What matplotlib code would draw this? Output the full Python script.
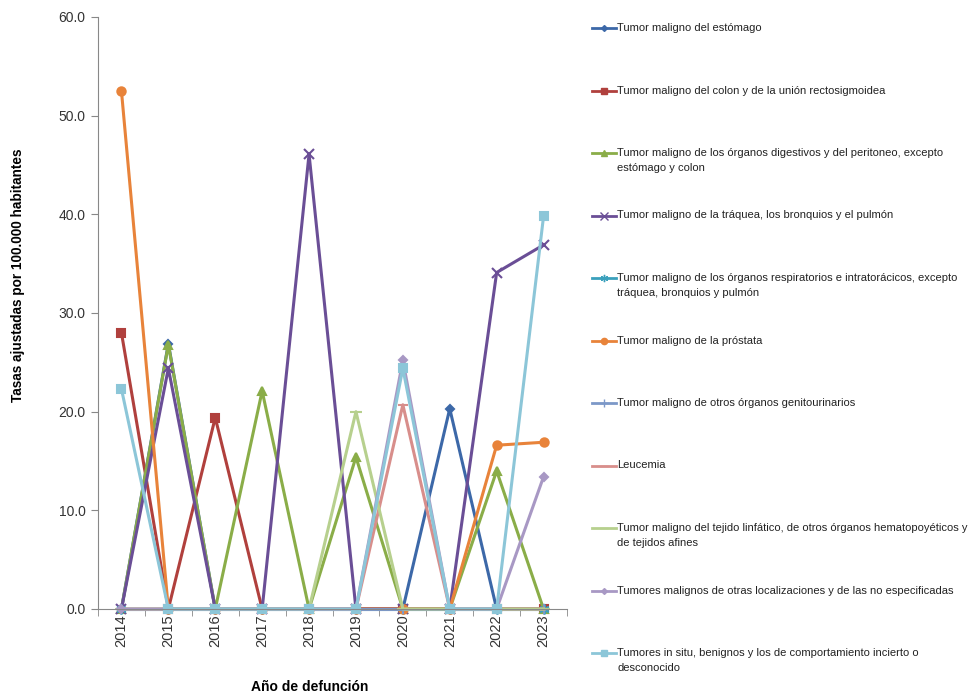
import matplotlib
matplotlib.use("Agg")
from matplotlib import pyplot as plt
from matplotlib.lines import Line2D
import numpy as np

plt.rcParams['font.family'] = ['Liberation Sans', 'DejaVu Sans']

years = [2014, 2015, 2016, 2017, 2018, 2019, 2020, 2021, 2022, 2023]

names = [
    "Tumor maligno del estómago",
    "Tumor maligno del colon y de la unión rectosigmoidea",
    "Tumor maligno de los órganos digestivos y del peritoneo, excepto\nestómago y colon",
    "Tumor maligno de la tráquea, los bronquios y el pulmón",
    "Tumor maligno de los órganos respiratorios e intratorácicos, excepto\ntráquea, bronquios y pulmón",
    "Tumor maligno de la próstata",
    "Tumor maligno de otros órganos genitourinarios",
    "Leucemia",
    "Tumor maligno del tejido linfático, de otros órganos hematopoyéticos y\nde tejidos afines",
    "Tumores malignos de otras localizaciones y de las no especificadas",
    "Tumores in situ, benignos y los de comportamiento incierto o\ndesconocido",
]

estomago      = [0, 26.9, 0, 0, 0, 0, 0, 20.3, 0, 0]
colon         = [28.0, 0, 19.4, 0, 0, 0, 0, 0, 0, 0]
digestivos    = [0, 26.8, 0, 22.1, 0, 15.4, 0, 0, 14.0, 0]
traquea       = [0, 24.4, 0, 0, 46.1, 0, 0, 0, 34.1, 36.9]
respiratorios = [0, 0, 0, 0, 0, 0, 0, 0, 0, 0]
prostata      = [52.5, 0, 0, 0, 0, 0, 0, 0, 16.6, 16.9]
genitourin    = [0, 0, 0, 0, 0, 0, 0, 0, 0, 0]
leucemia      = [0, 0, 0, 0, 0, 0, 20.7, 0, 0, 0]
linfatico     = [0, 0, 0, 0, 0, 20.0, 0, 0, 0, 0]
otras         = [0, 0, 0, 0, 0, 0, 25.2, 0, 0, 13.4]
in_situ       = [22.3, 0, 0, 0, 0, 0, 24.4, 0, 0, 39.8]

series = [estomago, colon, digestivos, traquea, respiratorios, prostata,
          genitourin, leucemia, linfatico, otras, in_situ]

colors = ['#3C68A8', '#B0403D', '#8AAD48', '#6A4E96', '#3AA0BC', '#E8833A',
          '#7C98C8', '#D88E8B', '#B7D08E', '#A898C4', '#8CC6D8']
markers = ['D', 's', '^', 'x', (6, 2, 0), 'o', '+', '_', '_', 'D', 's']
msizes = [4, 6, 6, 7, 7, 6, 7, 7, 8, 4, 6]

fig = plt.figure(figsize=(9.72, 6.96), dpi=100)
ax = fig.add_axes([98/972, 1-609/696, 469/972, 592/696])

x = np.arange(len(years))
for vals, c, m, ms in zip(series, colors, markers, msizes):
    ax.plot(x, vals, color=c, lw=2.2, marker=m, ms=ms, mec=c, mfc=c, mew=1.5,
            clip_on=False)

ax.set_xlim(-0.5, len(years)-0.5)
ax.set_ylim(0, 60)
ax.set_yticks(np.arange(0, 61, 10))
ax.set_yticklabels([f"{v:.1f}" for v in np.arange(0, 61, 10)], fontsize=10,
                   color='#333333')
ax.set_xticks(x)
ax.set_xticklabels([str(y) for y in years], rotation=90, fontsize=10.5,
                   color='#333333')
ax.set_xticks(np.arange(-0.5, len(years), 1), minor=True)
ax.tick_params(axis='x', which='major', length=0, pad=4)
ax.tick_params(axis='x', which='minor', length=5, color='#888888')
ax.tick_params(axis='y', length=5, color='#888888', pad=4)
for s in ['top', 'right']:
    ax.spines[s].set_visible(False)
for s in ['left', 'bottom']:
    ax.spines[s].set_color('#888888')

fig.text(18/972, 1-275/696, "Tasas ajustadas por 100.000 habitantes",
         fontsize=9.8, fontweight='bold', rotation=90, ha='center', va='center')
fig.text(310/972, 1-687/696, "Año de defunción", fontsize=10,
         fontweight='bold', ha='center', va='center')

# legend drawn by hand on the right
y0 = 28
step = 62.5
for i, (name, c, m, ms) in enumerate(zip(names, colors, markers, msizes)):
    yp = 1 - (y0 + i*step)/696
    fig.add_artist(Line2D([592/972, 616/972], [yp, yp], color=c, lw=2,
                          transform=fig.transFigure))
    fig.add_artist(Line2D([604/972], [yp], color=c, marker=m,
                          ms=ms*0.75, mec=c, mfc=c, mew=1.0,
                          transform=fig.transFigure))
    fig.text(617/972, yp + 5/696, name, fontsize=8.0, va='top', ha='left',
             linespacing=1.65, color='#222222')

fig.savefig("out.png", dpi=100)
